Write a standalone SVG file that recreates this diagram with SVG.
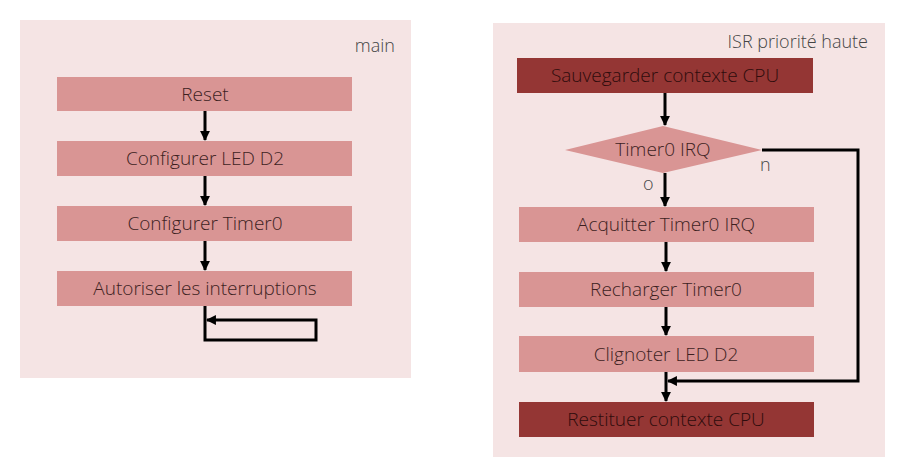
<svg xmlns="http://www.w3.org/2000/svg" width="918" height="475" viewBox="0 0 918 475">
<defs>
<style>
.panel{fill:#f5e4e4}
.box{fill:#d99594}
.dark{fill:#943634}
.t{font-family:"Open Sans","Liberation Sans",sans-serif;font-size:19px;font-weight:300;fill:#3d1f1f;text-anchor:middle}
.td{fill:#2e0c0c}
.lbl{font-family:"Open Sans","Liberation Sans",sans-serif;font-size:18px;font-weight:300;fill:#444}
.c{fill:none;stroke:#000;stroke-width:3}
</style>
<marker id="ah" viewBox="0 0 10 10" refX="9" refY="5" markerWidth="3.3" markerHeight="3.3" orient="auto">
<path d="M0,0 L10,5 L0,10 z" fill="#000"/>
</marker>
</defs>
<rect width="918" height="475" fill="#ffffff"/>
<g id="panel-main">
<rect class="panel" x="20" y="20" width="391" height="358"/>
<text class="lbl" x="395" y="52" text-anchor="end">main</text>
</g>
<g id="panel-isr">
<rect class="panel" x="493" y="23" width="392" height="434"/>
<text class="lbl" x="868" y="48" text-anchor="end">ISR priorité haute</text>
</g>
<g id="reset"><rect class="box" x="57" y="77" width="295" height="34"/><text class="t" x="205" y="100.5">Reset</text></g>
<g id="cfg-led"><rect class="box" x="57" y="141" width="295" height="35"/><text class="t" x="205" y="165">Configurer LED D2</text></g>
<g id="cfg-timer"><rect class="box" x="57" y="206" width="295" height="35"/><text class="t" x="205" y="230">Configurer Timer0</text></g>
<g id="irq-en"><rect class="box" x="57" y="271" width="295" height="35"/><text class="t" x="205" y="295">Autoriser les interruptions</text></g>
<g id="save"><rect class="dark" x="517" y="58" width="296" height="35"/><text class="t td" x="665" y="82">Sauvegarder contexte CPU</text></g>
<g id="decision"><polygon class="box" points="565,150 663,126 762,150 663,173"/><text class="t" x="663" y="156">Timer0 IRQ</text></g>
<g id="ack"><rect class="box" x="519" y="207" width="295" height="35"/><text class="t" x="666" y="231">Acquitter Timer0 IRQ</text></g>
<g id="reload"><rect class="box" x="519" y="272" width="295" height="35"/><text class="t" x="666" y="296">Recharger Timer0</text></g>
<g id="blink"><rect class="box" x="519" y="336" width="295" height="36"/><text class="t" x="666" y="360.5">Clignoter LED D2</text></g>
<g id="restore"><rect class="dark" x="519" y="402" width="295" height="35"/><text class="t td" x="666" y="426">Restituer contexte CPU</text></g>
<g id="connectors">
<path class="c" d="M205,111 V140" marker-end="url(#ah)"/>
<path class="c" d="M205,176 V205" marker-end="url(#ah)"/>
<path class="c" d="M205,241 V270" marker-end="url(#ah)"/>
<path class="c" d="M205,306 V340 H316 V320 H207" marker-end="url(#ah)"/>
<path class="c" d="M665,93 V125" marker-end="url(#ah)"/>
<path class="c" d="M665,173 V206" marker-end="url(#ah)"/>
<path class="c" d="M666,242 V271" marker-end="url(#ah)"/>
<path class="c" d="M666,307 V335" marker-end="url(#ah)"/>
<path class="c" d="M666,372 V401" marker-end="url(#ah)"/>
<path class="c" d="M762,150 H858 V381 H668" marker-end="url(#ah)"/>
<text class="lbl" x="760" y="171">n</text>
<text class="lbl" x="643" y="190">o</text>
</g>
</svg>
